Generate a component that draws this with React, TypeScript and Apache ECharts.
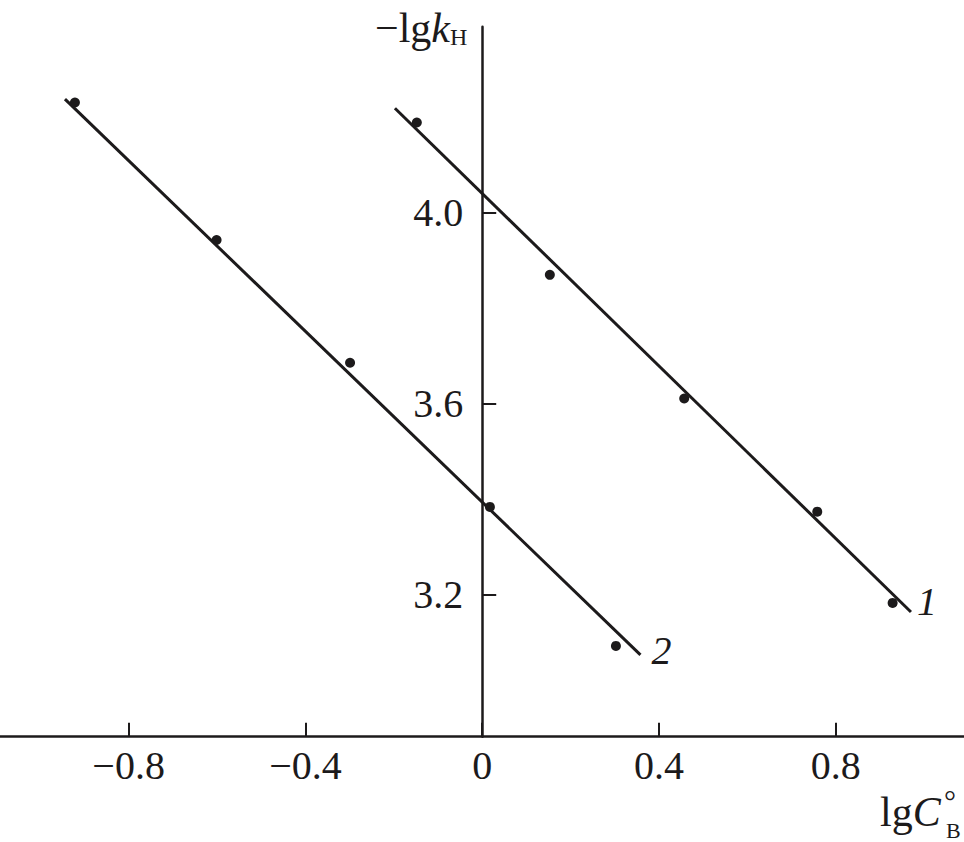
import React, { useEffect, useRef } from 'react';
import * as echarts from 'echarts';

const xTicks = [-0.8, -0.4, 0, 0.4, 0.8];
const yTicks = [3.2, 3.6, 4.0];
const series1X = [-0.148, 0.153, 0.457, 0.758, 0.9285];
const series1Y = [4.188, 3.869, 3.61, 3.373, 3.182];
const series2X = [-0.9215, -0.601, -0.299, 0.0174, 0.3025];
const series2Y = [4.23, 3.942, 3.685, 3.383, 3.092];
const fit1X = [-0.1975, 0.97];
const fit1Y = [4.218, 3.163];
const fit2X = [-0.944, 0.358];
const fit2Y = [4.237, 3.073];
const lineLabels = ['1', '2'];

const INK = '#1c1a1b';
const FONT = '"Liberation Serif", "Times New Roman", serif';

const X_MIN = -1.091;
const X_MAX = 1.09;
const GRID_W = 964;

const zip = (xs: number[], ys: number[]) => xs.map((x, i) => [x, ys[i]]);

export default function App() {
  const ref = useRef<HTMLDivElement>(null);
  useEffect(() => {
    if (!ref.current) return;
    const chart = echarts.init(ref.current, null, { renderer: 'svg' });
    const fmtX = (v: number) => {
      if (Math.abs(v) < 1e-9) return '0';
      const s = Math.abs(v).toFixed(1);
      return v < 0 ? '\u2212' + s : s;
    };
    // y axis sits where x = 0
    const yAxisShift = ((0 - X_MIN) / (X_MAX - X_MIN)) * GRID_W;
    chart.setOption({
      animation: false,
      backgroundColor: '#ffffff',
      grid: { left: 0, right: 0, top: 26.7, bottom: 105.3, outerBoundsMode: 'none', containLabel: false },
      xAxis: {
        type: 'value',
        min: X_MIN,
        max: X_MAX,
        axisLine: { show: true, onZero: false, lineStyle: { color: INK, width: 2.5 } },
        axisTick: { show: true, inside: true, length: 14, customValues: xTicks, lineStyle: { color: INK, width: 2 } },
        axisLabel: {
          show: true,
          customValues: xTicks,
          margin: 9,
          formatter: fmtX,
          color: INK,
          fontFamily: FONT,
          fontSize: 40,
        },
        splitLine: { show: false },
      },
      yAxis: {
        type: 'value',
        min: 2.9018,
        max: 4.3887,
        offset: -yAxisShift,
        axisLine: { show: true, onZero: false, lineStyle: { color: INK, width: 2.5 } },
        axisTick: { show: true, inside: true, length: 14, customValues: yTicks, lineStyle: { color: INK, width: 2 } },
        axisLabel: {
          show: true,
          customValues: yTicks,
          margin: 19,
          formatter: (v: number) => v.toFixed(1),
          color: INK,
          fontFamily: FONT,
          fontSize: 40,
        },
        splitLine: { show: false },
      },
      series: [
        {
          type: 'line',
          data: zip(fit1X, fit1Y),
          showSymbol: false,
          symbol: 'none',
          clip: false,
          lineStyle: { color: INK, width: 3 },
          endLabel: {
            show: true,
            formatter: lineLabels[0],
            distance: 6,
            offset: [0, -10],
            color: INK,
            fontFamily: FONT,
            fontStyle: 'italic',
            fontSize: 40,
          },
          z: 2,
        },
        {
          type: 'line',
          data: zip(fit2X, fit2Y),
          showSymbol: false,
          symbol: 'none',
          clip: false,
          lineStyle: { color: INK, width: 3 },
          endLabel: {
            show: true,
            formatter: lineLabels[1],
            distance: 11,
            offset: [0, -4],
            color: INK,
            fontFamily: FONT,
            fontStyle: 'italic',
            fontSize: 40,
          },
          z: 2,
        },
        {
          type: 'scatter',
          data: zip(series1X, series1Y),
          symbol: 'circle',
          symbolSize: 10,
          itemStyle: { color: INK, opacity: 1 },
          clip: false,
          z: 3,
        },
        {
          type: 'scatter',
          data: zip(series2X, series2Y),
          symbol: 'circle',
          symbolSize: 10,
          itemStyle: { color: INK, opacity: 1 },
          clip: false,
          z: 3,
        },
      ],
      graphic: [
        {
          type: 'text',
          x: 375,
          y: 27,
          style: {
            text: '{a|\u2212lg}{b|k}{c|H}',
            fill: INK,
            verticalAlign: 'middle',
            align: 'left',
            rich: {
              a: { fontFamily: FONT, fontSize: 42, lineHeight: 44, verticalAlign: 'bottom', fill: INK },
              b: { fontFamily: FONT, fontSize: 42, fontStyle: 'italic', lineHeight: 44, verticalAlign: 'bottom', fill: INK },
              c: { fontFamily: FONT, fontSize: 24, lineHeight: 26, verticalAlign: 'bottom', fill: INK },
            },
          },
        },
        {
          type: 'text',
          x: 880,
          y: 812,
          style: {
            text: '{a|lg}{b|C}',
            fill: INK,
            verticalAlign: 'middle',
            align: 'left',
            rich: {
              a: { fontFamily: FONT, fontSize: 42, lineHeight: 44, fill: INK },
              b: { fontFamily: FONT, fontSize: 42, fontStyle: 'italic', lineHeight: 44, fill: INK },
            },
          },
        },
        { type: 'text', x: 944, y: 800, style: { text: '\u00b0', fill: INK, fontFamily: FONT, fontSize: 30, lineHeight: 14, verticalAlign: 'middle', align: 'left' } },
        { type: 'text', x: 946, y: 830, style: { text: 'B', fill: INK, fontFamily: FONT, fontSize: 22, lineHeight: 16, verticalAlign: 'middle', align: 'left' } },
      ],
    });
    return () => chart.dispose();
  }, []);
  return <div ref={ref} style={{ position: 'fixed', left: 0, top: 0, width: 964, height: 842 }} />;
}
